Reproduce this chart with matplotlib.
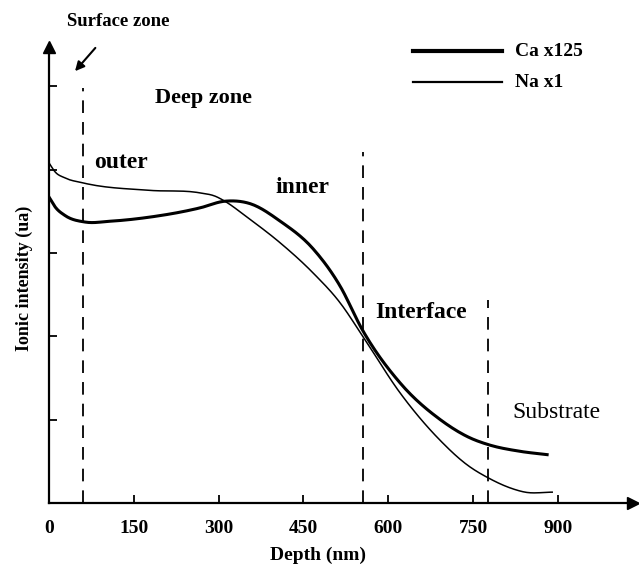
import numpy as np
from matplotlib import pyplot as plt

plt.rc('font', family='Liberation Serif', weight='bold')

depth_ca = [0, 11, 28, 64, 108, 179, 267, 311, 356, 409, 467, 515, 554, 621, 692, 745, 777, 833, 881]
ca = [3.67, 3.55, 3.45, 3.37, 3.38, 3.43, 3.54, 3.62, 3.59, 3.38, 3.05, 2.60, 2.08, 1.44, 1.00, 0.78, 0.70, 0.62, 0.58]

depth_na = [0, 11, 28, 60, 179, 267, 294, 311, 350, 409, 467, 515, 554, 621, 692, 739, 780, 816, 842, 890]
na = [4.08, 3.97, 3.90, 3.84, 3.75, 3.72, 3.68, 3.62, 3.43, 3.12, 2.76, 2.40, 2.01, 1.32, 0.75, 0.46, 0.29, 0.18, 0.13, 0.13]

xticks = [0, 150, 300, 450, 600, 750, 900]
yticks = [1, 2, 3, 4, 5]

# zone borders: depth, top of the dashed line
borders = [(60, 4.98), (555, 4.21), (777, 2.43)]


def smooth(xs, ys, n=15):
	# cubic hermite through the read points, only for drawing
	xs = np.asarray(xs, float)
	ys = np.asarray(ys, float)
	m = np.gradient(ys, xs)
	px, py = [], []
	for i in range(len(xs) - 1):
		h = xs[i + 1] - xs[i]
		t = np.linspace(0, 1, n, endpoint=False)
		h00 = 2 * t ** 3 - 3 * t ** 2 + 1
		h10 = t ** 3 - 2 * t ** 2 + t
		h01 = -2 * t ** 3 + 3 * t ** 2
		h11 = t ** 3 - t ** 2
		px.extend(xs[i] + t * h)
		py.extend(h00 * ys[i] + h10 * h * m[i] + h01 * ys[i + 1] + h11 * h * m[i + 1])
	px.append(xs[-1])
	py.append(ys[-1])
	return px, py


fig = plt.figure(figsize=(6.39, 5.71), dpi=100)
ax = fig.add_axes([0.0767, 0.1191, 0.914, 0.7986])
ax.set_xlim(0, 1033)
ax.set_ylim(0, 5.47)

x, y = smooth(depth_ca, ca)
ax.plot(x, y, color='black', lw=2.2)
x, y = smooth(depth_na, na)
ax.plot(x, y, color='black', lw=1.1)

for d, top in borders:
	ax.plot([d, d], [0, top], color='black', lw=1.3, dashes=(7, 5))

# legend drawn by hand like in the original
ax.plot([644, 801], [5.42, 5.42], color='black', lw=3)
ax.plot([644, 801], [5.05, 5.05], color='black', lw=1.6)
ax.text(824, 5.42, 'Ca x125', fontsize=14, va='center')
ax.text(824, 5.05, 'Na x1', fontsize=14, va='center')

ax.text(188, 4.86, 'Deep zone', fontsize=16, va='center')
ax.text(80, 4.08, 'outer', fontsize=17, va='center')
ax.text(400, 3.79, 'inner', fontsize=17, va='center')
ax.text(577, 2.28, 'Interface', fontsize=17, va='center')
ax.text(819, 1.08, 'Substrate', fontsize=17, va='center', fontweight='normal')
ax.annotate('Surface zone', xy=(46, 5.18), xytext=(122, 5.77), ha='center', va='center',
			fontsize=13.5, annotation_clip=False,
			arrowprops=dict(arrowstyle='-|>', color='black', lw=1.5, shrinkA=14, shrinkB=0))

ax.spines['top'].set_visible(False)
ax.spines['right'].set_visible(False)
ax.spines['left'].set_linewidth(1.6)
ax.spines['bottom'].set_linewidth(1.6)
ax.plot(1, 0, '>k', ms=8, transform=ax.transAxes, clip_on=False)
ax.plot(0, 1, '^k', ms=8, transform=ax.transAxes, clip_on=False)

ax.set_xticks(xticks)
ax.set_xticklabels([str(t) for t in xticks], fontsize=14)
ax.set_yticks(yticks)
ax.set_yticklabels([])
ax.tick_params(direction='in', length=6, width=1.3, pad=12)

fig.text(318 / 639, 1 - 555 / 571, 'Depth (nm)', fontsize=14, ha='center', va='center')
fig.text(24 / 639, 1 - 278 / 571, 'Ionic intensity (ua)', fontsize=13, rotation=90,
		 ha='center', va='center')

plt.savefig('out.png', dpi=100)
